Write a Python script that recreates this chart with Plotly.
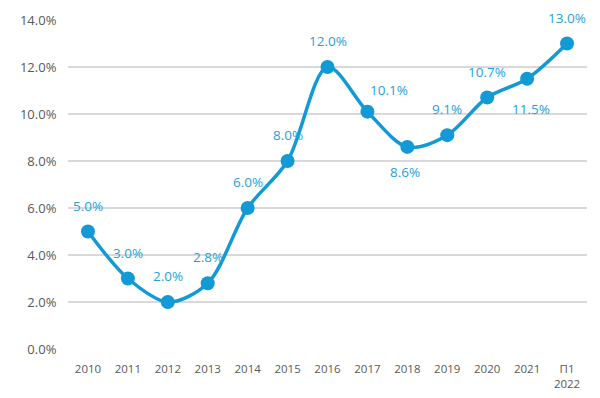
import plotly.graph_objects as go

categories = ["2010", "2011", "2012", "2013", "2014", "2015", "2016", "2017", "2018", "2019", "2020", "2021", "П1<br>2022"]
values = [5.0, 3.0, 2.0, 2.8, 6.0, 8.0, 12.0, 10.1, 8.6, 9.1, 10.7, 11.5, 13.0]
labels = ["5.0%", "3.0%", "2.0%", "2.8%", "6.0%", "8.0%", "12.0%", "10.1%", "8.6%", "9.1%", "10.7%", "11.5%", "13.0%"]
label_pos = ["top", "top", "top", "top", "top", "top", "top", "topright", "bottom", "top", "top", "bottom2", "top"]
y_ticks = [0, 2, 4, 6, 8, 10, 12, 14]
y_tick_text = ["0.0%", "2.0%", "4.0%", "6.0%", "8.0%", "10.0%", "12.0%", "14.0%"]

LINE = "#119ad5"
TEXT = "#25a2da"

xs = list(range(len(categories)))

fig = go.Figure()
fig.add_trace(go.Scatter(
    x=xs, y=values, mode="lines+markers",
    line=dict(color=LINE, width=3.5, shape="spline", smoothing=0.9),
    marker=dict(color=LINE, size=14),
    hoverinfo="skip",
))

for xi, v, t, p in zip(xs, values, labels, label_pos):
    if p == "top":
        fig.add_annotation(x=xi, y=v, text=t, showarrow=False, yshift=26, xshift=0)
    elif p == "bottom":
        fig.add_annotation(x=xi, y=v, text=t, showarrow=False, yshift=-25, xshift=-2)
    elif p == "bottom2":
        fig.add_annotation(x=xi, y=v, text=t, showarrow=False, yshift=-30, xshift=4)
    else:
        fig.add_annotation(x=xi, y=v, text=t, showarrow=False, yshift=22, xshift=22)

fig.update_annotations(font=dict(family="Open Sans", size=13.5, color=TEXT))

fig.update_layout(
    width=592, height=390,
    margin=dict(l=60, r=13, t=12, b=49),
    plot_bgcolor="white", paper_bgcolor="white",
    showlegend=False,
    font=dict(family="Open Sans", color="#595959"),
)
fig.update_xaxes(
    range=[-0.5, len(categories) - 0.5], automargin=False,
    tickvals=xs, ticktext=categories,
    showgrid=False, zeroline=False, showline=False,
    tickfont=dict(size=11.5, color="#595959"),
    ticks="outside", ticklen=9, tickcolor="rgba(0,0,0,0)",
)
fig.update_yaxes(
    range=[0, 14], tickvals=y_ticks, ticktext=y_tick_text, automargin=False,
    showgrid=True, gridcolor="#d9d9d9", gridwidth=1.5, zeroline=False,
    tickfont=dict(size=13, color="#595959"),
    ticks="outside", ticklen=8, tickcolor="rgba(0,0,0,0)",
)

fig.write_html("out.html")
